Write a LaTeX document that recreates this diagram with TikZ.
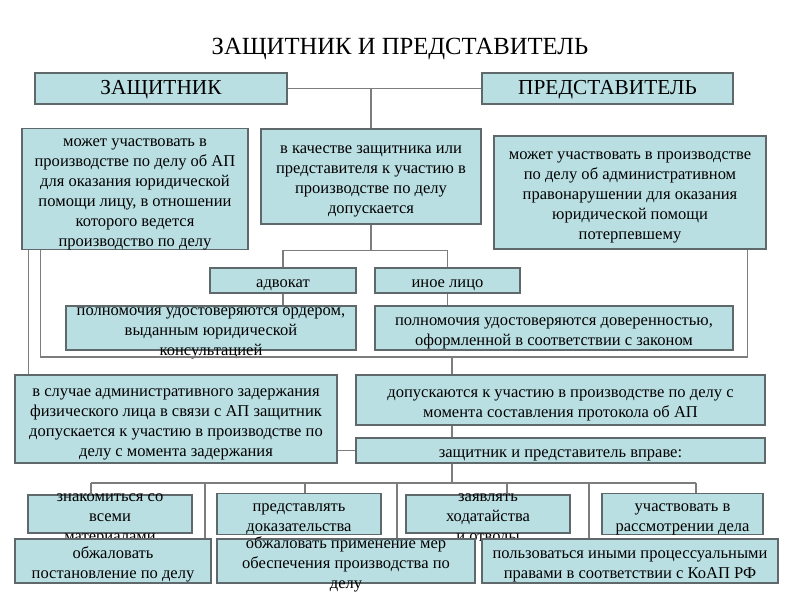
\documentclass[tikz,border=0pt]{standalone}
\usepackage{fontspec}
\setmainfont{Liberation Serif}
\usetikzlibrary{calc}
\definecolor{boxfill}{RGB}{186,223,227}
\definecolor{boxline}{RGB}{95,105,108}
\definecolor{linkgrey}{RGB}{125,125,125}

\begin{document}
\begin{tikzpicture}[x=0.75pt,y=-0.75pt,
    struts/.style 2 args={execute at begin node={\rule{0pt}{#1}},
      execute at end node={\rule[-#2]{0pt}{#2}}},
    frame/.style={draw=boxline,fill=boxfill,line width=0.9pt,inner sep=0pt,align=flush center},
    box/.style={frame,struts={1.1em}{0.12em},font=\fontsize{12.4}{15}\selectfont},
    head/.style={frame,struts={0.89em}{0.32em},font=\fontsize{16}{19}\selectfont},
    txt/.style={inner sep=0pt,align=flush center,struts={1.1em}{0.12em},
      font=\fontsize{12.4}{15}\selectfont},
    sz/.style 2 args={minimum width=#1*0.75pt,minimum height=#2*0.75pt,text width=#1*0.75pt-4pt},
    tw/.style={text width=#1*0.75pt-4pt},
    link/.style={draw=linkgrey,line width=0.8pt}]
        \useasboundingbox (0,0) rectangle (800,600);
        \node[font=\fontsize{18.5}{22}\selectfont] (title) at (400,49) {ЗАЩИТНИК И ПРЕДСТАВИТЕЛЬ};
        % top level
        \node[head,sz={252}{31}] (def) at (161,88.5) {ЗАЩИТНИК};
        \node[head,sz={251}{31}] (rep) at (607.5,88.5) {ПРЕДСТАВИТЕЛЬ};
        \node[box,sz={226}{120}] (defcan) at (135,189)
          {может участвовать в\\производстве по делу об АП\\для оказания юридической\\помощи лицу, в отношении\\которого ведется\\производство по делу};
        \node[box,sz={220}{95}] (both) at (371,176.5)
          {в качестве защитника или\\представителя к участию в\\производстве по делу\\допускается};
        \node[box,sz={272}{113}] (repcan) at (630,192.5)
          {может участвовать в производстве\\по делу об административном\\правонарушении для оказания\\юридической помощи\\потерпевшему};
        % who may act
        \node[box,sz={146}{25}] (adv) at (283,280.5) {адвокат};
        \node[box,sz={145}{25}] (oth) at (447.5,280.5) {иное лицо};
        \node[box,sz={290}{44}] (ord) at (211,328) {};
        \node[txt,tw=290] (ordtxt) at (ord) {полномочия удостоверяются ордером,\\выданным юридической\\консультацией};
        \node[box,sz={358}{44}] (dov) at (554,328)
          {полномочия удостоверяются доверенностью,\\оформленной в соответствии с законом};
        % admission
        \node[box,sz={322}{88}] (det) at (176,419)
          {в случае административного задержания\\физического лица в связи с АП защитник\\допускается к участию в производстве по\\делу с момента задержания};
        \node[box,sz={409}{50}] (adm) at (560.5,400)
          {допускаются к участию в производстве по делу с\\момента составления протокола об АП};
        \node[box,sz={409}{25}] (may) at (560.5,450.5) {защитник и представитель вправе:};
        % rights
        \node[box,sz={164}{38}] (r1) at (110,514) {};
        \node[txt,tw=164] (r1txt) at (r1) {знакомиться со\\всеми\\материалами};
        \node[box,sz={164}{38}] (r2) at (299,514) {представлять\\доказательства};
        \node[box,sz={164}{38}] (r3) at (488,514) {};
        \node[txt,tw=164] (r3txt) at (r3) {заявлять\\ходатайства\\и отводы};
        \node[box,sz={161}{38}] (r4) at (682.5,514) {участвовать в\\рассмотрении дела};
        \node[box,sz={196}{44}] (r5) at (113,561) {обжаловать\\постановление по делу};
        \node[box,sz={258}{44}] (r6) at (346,561) {};
        \node[txt,tw=258] (r6txt) at (r6) {обжаловать применение мер\\обеспечения производства по\\делу};
        \node[box,sz={296}{44}] (r7) at (630,561)
          {пользоваться иными процессуальными\\правами в соответствии с КоАП РФ};
        % connectors
        \draw[link] (def) -- (rep);
        \draw[link] (both.north) -- (both.north |- def.east);
        \coordinate (fork) at ($(both.south)+(0,26)$);
        \draw[link] (both.south) -- (fork);
        \draw[link] (adv.north) |- (fork) -| (oth.north);
        \draw[link] (adv.south) -- (adv.south |- ord.north);
        \draw[link] (oth.south) -- (oth.south |- dov.north);
        \coordinate (brl) at ($(defcan.south west)+(19,0)$);
        \coordinate (brd) at ($(defcan.south west)+(7,0)$);
        \coordinate (brr) at ($(repcan.south east)+(-19,0)$);
        \coordinate (bar) at (452,357);
        \draw[link] (brl) |- (bar) -| (brr);
        \draw[link] (brd) -- (brd |- det.north);
        \draw[link] (bar) -- (bar |- adm.north);
        \draw[link] (adm.south -| bar) -- (may.north -| bar);
        \draw[link] (det.east |- may.west) -- (may.west);
        \coordinate (hub) at (452,483);
        \draw[link] (may.south -| hub) -- (hub);
        \foreach \xx/\nd in {91/r1,205/r5,305/r2,397/r6,507/r3,589/r7,696/r4}{
          \coordinate (t\nd) at (\xx,483);
          \draw[link] (t\nd) -- (t\nd |- \nd.north);
        }
        \draw[link] (tr1) -- (tr4);
      \end{tikzpicture}
\end{document}
